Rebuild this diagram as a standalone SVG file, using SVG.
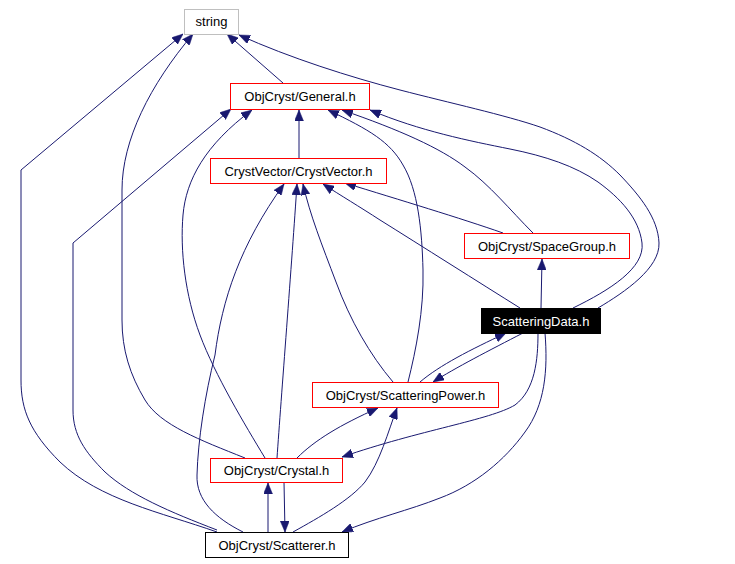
<svg xmlns="http://www.w3.org/2000/svg" width="735" height="564" viewBox="0 0 735 564">
<style>
.n rect{stroke-width:1}
.red rect{fill:#fff;stroke:#ff0000}
.gray rect{fill:#fff;stroke:#bfbfbf}
.blk rect{fill:#fff;stroke:#000}
.sel rect{fill:#000;stroke:#000}
.n text{font-family:"Liberation Sans",Arial,sans-serif;font-size:13px;text-anchor:middle;fill:#000}
.sel text{fill:#fff}
#edges path{fill:none;stroke:#191970;stroke-width:1;marker-end:url(#ah)}
</style>
<defs>
<marker id="ah" viewBox="0 0 11 9" refX="11" refY="4.5" markerWidth="11" markerHeight="9" markerUnits="userSpaceOnUse" orient="auto">
<path d="M0,0 L11,4.5 L0,9 z" fill="#191970" stroke="#191970" stroke-width="0.5"/>
</marker>
</defs>
<rect width="735" height="564" fill="#fff"/>
<g id="edges">
<path d="M217,532 C160,512 100,500 60,462 C30,432 21,410 21,380 L21,170 L183,34"/>
<path d="M217,530 C170,512 130,495 105,472 C85,452 73,435 73,410 L73,243 L231,109"/>
<path d="M245,458 C200,440 160,425 145,400 C130,375 122,350 122,320 L122,190 C122,140 150,85 193,34"/>
<path d="M283,83 L227,34"/>
<path d="M598,308 C625,292 660,268 659,243 C658,218 640,196 620,175 C600,155 575,140 540,127 C505,115 450,103 400,90 C350,77 290,58 239,35"/>
<path d="M299,158 L299,110"/>
<path d="M573,308 C610,290 645,268 642,243 C639,218 620,198 598,182 C575,166 545,156 510,149 C470,141 420,131 370,110"/>
<path d="M533,233 C510,210 490,185 465,167 C440,148 400,130 342,110"/>
<path d="M408,382 C416,350 424,310 423,270 C422,230 418,190 403,165 C390,142 370,130 328,110"/>
<path d="M265,458 C245,425 215,375 200,335 C185,295 180,250 183,215 C186,180 205,145 252,110"/>
<path d="M243,532 C215,518 196,500 197,475 C198,440 205,395 215,355 C222,300 240,245 284,184"/>
<path d="M277,458 C281,400 292,260 297,184"/>
<path d="M393,382 C370,355 350,320 336,282 C322,245 310,215 303,184"/>
<path d="M520,308 C480,283 420,245 380,220 C360,207 340,195 323,184"/>
<path d="M503,233 C460,218 400,200 345,183"/>
<path d="M541,308 L542,259"/>
<path d="M420,382 C440,365 470,350 506,333"/>
<path d="M523,333 C490,350 455,368 433,382"/>
<path d="M538,333 C538,360 535,390 515,405 C490,420 420,430 342,457"/>
<path d="M545,333 C548,370 545,405 525,432 C505,460 475,485 440,498 C410,510 375,518 342,532"/>
<path d="M297,458 C315,440 340,425 378,408"/>
<path d="M293,532 C320,517 350,500 365,482 C380,462 388,432 397,408"/>
<path d="M268,532 L268,483"/>
<path d="M284,482 L285,532"/>
</g>
<g id="n_string" class="n gray"><rect x="184.5" y="9.5" width="54" height="25"/><text x="211.5" y="26">string</text></g>
<g id="n_general" class="n red"><rect x="230.5" y="83.5" width="139" height="26"/><text x="300" y="101">ObjCryst/General.h</text></g>
<g id="n_crystvector" class="n red"><rect x="210.5" y="158.5" width="176" height="25"/><text x="298.5" y="175.5">CrystVector/CrystVector.h</text></g>
<g id="n_spacegroup" class="n red"><rect x="464.5" y="233.5" width="165" height="25"/><text x="547" y="250.5">ObjCryst/SpaceGroup.h</text></g>
<g id="n_scatteringdata" class="n sel"><rect x="481.5" y="308.5" width="119" height="25"/><text x="541" y="325.5">ScatteringData.h</text></g>
<g id="n_scatteringpower" class="n red"><rect x="312.5" y="382.5" width="186" height="25"/><text x="405.5" y="399.5">ObjCryst/ScatteringPower.h</text></g>
<g id="n_crystal" class="n red"><rect x="210.5" y="458.5" width="132" height="24"/><text x="276.5" y="475">ObjCryst/Crystal.h</text></g>
<g id="n_scatterer" class="n blk"><rect x="205.5" y="532.5" width="143" height="25"/><text x="277" y="549.5">ObjCryst/Scatterer.h</text></g>
</svg>
